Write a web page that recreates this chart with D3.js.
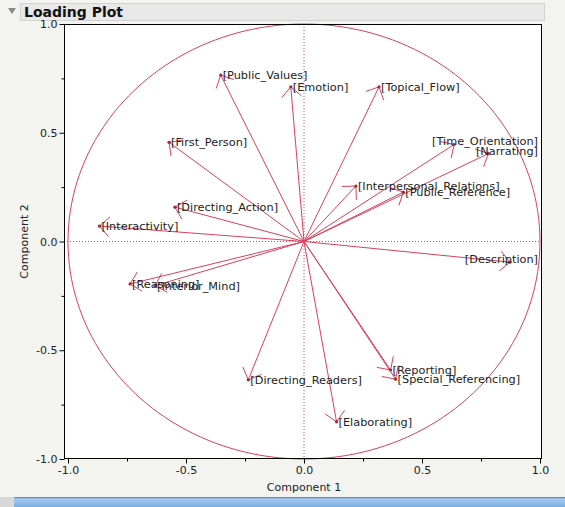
<!DOCTYPE html>
<html><head><meta charset="utf-8">
<script src="https://cdn.jsdelivr.net/npm/d3@7"></script>
<style>
html,body{margin:0;padding:0;background:#f3f3ef;}
svg{display:block;}
</style></head>
<body>
<svg id="chart" width="565" height="507"></svg>
<script>
const labels = ["Public_Values","Emotion","Topical_Flow","First_Person","Time_Orientation","Narrating",
  "Interpersonal_Relations","Public_Reference","Description","Directing_Action","Interactivity",
  "Reasoning","Interior_Mind","Directing_Readers","Reporting","Special_Referencing","Elaborating"];
const comp1 = [-0.353,-0.056,0.318,-0.572,0.636,0.781,0.220,0.421,0.873,-0.547,-0.867,-0.737,-0.631,-0.236,0.367,0.388,0.138];
const comp2 = [0.765,0.711,0.711,0.456,0.446,0.404,0.255,0.227,-0.095,0.158,0.071,-0.195,-0.203,-0.636,-0.591,-0.633,-0.829];
const majorTicks = [-1,-0.5,0,0.5,1];
const minorTicks = [-0.75,-0.25,0.25,0.75];

const svg = d3.select("#chart");
const red = "#d8405c";
const font = "DejaVu Sans, Verdana, sans-serif";

const x = d3.scaleLinear().domain([-1,1]).range([68,540]);
const y = d3.scaleLinear().domain([-1,1]).range([459,24]);
const L = 64, R = 542, T = y(1), B = y(-1);

// header
svg.append("rect").attr("x",20.5).attr("y",3.5).attr("width",524).attr("height",17)
  .attr("fill","#e8e8e8").attr("stroke","#d2d2d2");
svg.append("path").attr("d","M8,8 L16,8 L12,14 Z").attr("fill","#8a8a8a");
svg.append("text").attr("x",24).attr("y",17).attr("font-family",font).attr("font-weight","bold")
  .attr("font-size",14).attr("fill","#111").text("Loading Plot");

// bottom blue strip
const grad = svg.append("defs").append("linearGradient").attr("id","bl").attr("x1",0).attr("x2",0).attr("y1",0).attr("y2",1);
grad.append("stop").attr("offset","0").attr("stop-color","#3f7fc8");
grad.append("stop").attr("offset","0.2").attr("stop-color","#a9cdf0");
grad.append("stop").attr("offset","1").attr("stop-color","#78aee3");
svg.append("rect").attr("x",0).attr("y",497).attr("width",565).attr("height",10).attr("fill","url(#bl)");
svg.append("rect").attr("x",0).attr("y",497).attr("width",14).attr("height",10).attr("fill","#d8d8d8");

// plot area
svg.append("rect").attr("x",L).attr("y",T).attr("width",R-L).attr("height",B-T).attr("fill","#fff");

// zero lines
svg.append("line").attr("x1",L).attr("x2",R).attr("y1",y(0)).attr("y2",y(0))
  .attr("stroke",red).attr("stroke-width",1).attr("stroke-dasharray","1,2");
svg.append("line").attr("x1",x(0)).attr("x2",x(0)).attr("y1",T).attr("y2",B)
  .attr("stroke",red).attr("stroke-width",1).attr("stroke-dasharray","1,2");

// unit circle
const circ = d3.range(0, 361, 2).map(a => [Math.cos(a*Math.PI/180), Math.sin(a*Math.PI/180)]);
svg.append("path").attr("d", d3.line().x(d=>x(d[0])).y(d=>y(d[1])).curve(d3.curveLinearClosed)(circ))
  .attr("fill","none").attr("stroke",red).attr("stroke-width",1);

// arrows
const g = svg.append("g");
labels.forEach((lab,i) => {
  const x0 = x(0), y0 = y(0), x1 = x(comp1[i]), y1 = y(comp2[i]);
  g.append("line").attr("x1",x0).attr("y1",y0).attr("x2",x1).attr("y2",y1)
    .attr("stroke",red).attr("stroke-width",1);
  const back = Math.atan2(y0-y1, x0-x1);
  const len = 14, spread = 45*Math.PI/180;
  [-spread, spread].forEach(s => {
    g.append("line").attr("x1",x1).attr("y1",y1)
      .attr("x2",x1+len*Math.cos(back+s)).attr("y2",y1+len*Math.sin(back+s))
      .attr("stroke",red).attr("stroke-width",1);
  });
  g.append("circle").attr("cx",x1).attr("cy",y1).attr("r",1.6).attr("fill","#a0283c");
});
labels.forEach((lab,i) => {
  const t = g.append("text").attr("x",x(comp1[i])+2).attr("y",y(comp2[i])+4)
    .attr("font-family",font).attr("font-size",11.3).attr("fill","#222").text("["+lab+"]");
  const w = t.node().getComputedTextLength();
  const maxX = R - 4 - w;
  if (x(comp1[i])+2 > maxX) t.attr("x", maxX).attr("y", y(comp2[i]) + 1);
});

// frame
svg.append("rect").attr("x",L+0.5).attr("y",T+0.5).attr("width",R-L-1).attr("height",B-T-1)
  .attr("fill","none").attr("stroke","#000").attr("stroke-width",1);

const fmt = d => d3.format(".1f")(d).replace("\u2212","-");
// y axis
const ya = svg.append("g").attr("transform",`translate(${L+0.5},0)`)
  .call(d3.axisLeft(y).tickValues(majorTicks).tickFormat(fmt).tickSize(5).tickPadding(2));
ya.select(".domain").remove();
ya.selectAll("text").attr("font-family",font).attr("font-size",11).attr("fill","#222");
ya.selectAll("line").attr("stroke","#000");
const ym = svg.append("g").attr("transform",`translate(${L+0.5},0)`)
  .call(d3.axisLeft(y).tickValues(minorTicks).tickFormat("").tickSize(3));
ym.select(".domain").remove();

// x axis
const xa = svg.append("g").attr("transform",`translate(0,${B-0.5})`)
  .call(d3.axisBottom(x).tickValues(majorTicks).tickFormat(fmt).tickSize(5).tickPadding(3));
xa.select(".domain").remove();
xa.selectAll("text").attr("font-family",font).attr("font-size",11).attr("fill","#222");
xa.selectAll("line").attr("stroke","#000");
const xm = svg.append("g").attr("transform",`translate(0,${B-0.5})`)
  .call(d3.axisBottom(x).tickValues(minorTicks).tickFormat("").tickSize(3));
xm.select(".domain").remove();

// axis titles
svg.append("text").attr("x",x(0)).attr("y",491).attr("text-anchor","middle")
  .attr("font-family",font).attr("font-size",11).attr("fill","#222").text("Component 1");
svg.append("text").attr("transform",`translate(28,${y(0)}) rotate(-90)`).attr("text-anchor","middle")
  .attr("font-family",font).attr("font-size",11).attr("fill","#222").text("Component 2");
</script>
</body></html>
